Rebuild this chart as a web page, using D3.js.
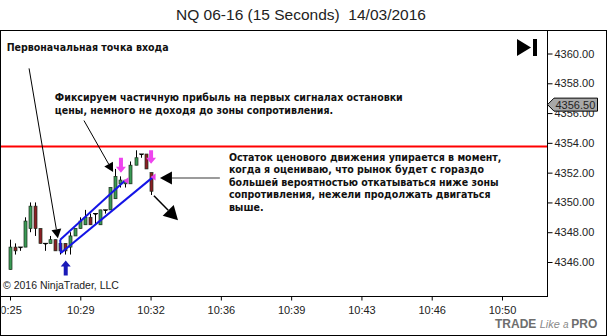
<html>
  <head>
    <title>NQ 06-16 (15 Seconds)</title>
    <script src="https://d3js.org/d3.v7.min.js"></script>
    <style>
      body { margin: 0; background: #fff; }
      text.axis { font-family: "Liberation Sans", Arial, sans-serif; font-size: 11px; fill: #222; }
      text.note { font-family: "DejaVu Sans Condensed", "DejaVu Sans", sans-serif; font-weight: bold; fill: #111; }
    </style>
  </head>
  <body>
    <svg id="chart" width="607" height="336"></svg>
    <script>
      // 15 second bars
      const barTimes = ["10:25:30","10:25:45","10:26:00","10:26:15","10:26:30","10:26:45","10:27:00","10:27:15",
        "10:27:30","10:27:45","10:28:00","10:28:15","10:28:30","10:28:45","10:29:00","10:29:15","10:29:30",
        "10:29:45","10:30:00","10:30:15","10:30:30","10:30:45","10:31:00","10:31:15","10:31:30","10:31:45",
        "10:32:00","10:32:15","10:32:30"];
      const opens  = [4345.5,4347.0,4347.0,4347.0,4348.25,4349.75,4348.25,4347.25,4347.25,4347.5,4347.25,4347.25,4347.0,4347.75,4348.25,4348.5,4349.0,4349.25,4348.5,4349.5,4349.5,4350.25,4351.25,4351.25,4351.25,4352.5,4353.25,4353.25,4352.0];
      const highs  = [4347.5,4347.25,4347.0,4349.0,4350.0,4350.0,4348.25,4347.25,4347.75,4347.5,4347.5,4347.25,4348.0,4348.25,4349.0,4349.5,4349.25,4349.25,4349.5,4349.5,4351.0,4352.25,4351.75,4351.5,4352.75,4353.5,4353.25,4353.25,4352.0];
      const lows   = [4345.5,4346.5,4346.75,4347.0,4348.0,4347.75,4347.25,4346.75,4347.25,4346.75,4346.5,4346.5,4346.5,4347.75,4348.25,4348.5,4348.5,4348.5,4348.5,4349.25,4349.5,4350.25,4351.0,4351.0,4351.25,4352.5,4353.0,4352.25,4350.5];
      const closes = [4347.0,4346.75,4347.0,4348.75,4349.75,4348.25,4347.25,4347.25,4347.5,4346.75,4346.75,4346.75,4347.75,4348.25,4348.75,4349.0,4348.5,4349.25,4349.5,4349.5,4351.0,4351.75,4351.5,4351.5,4352.5,4353.0,4353.25,4352.25,4350.75];

      const priceTicks = [4346, 4348, 4350, 4352, 4354, 4356, 4358, 4360];
      const timeTicks = ["10:25:30","10:29:00","10:32:30","10:36:00","10:39:30","10:43:00","10:46:30","10:50:00"];
      const resistance = 4353.75;
      const lastPrice = 4356.5;

      // trade markers and drawn annotations, in [time, price]
      const tradeLines = [
        [["10:28:00", 4347.5], ["10:31:13", 4351.45]],
        [["10:28:02", 4346.6], ["10:32:37", 4351.7]],
        [["10:28:00", 4347.5], ["10:28:02", 4346.6]]
      ];
      const exitMarks = [["10:31:15", 4351.45], ["10:32:36", 4351.7]];
      const exitArrows = [["10:31:00", 4353.0, 4352.0], ["10:32:30", 4353.5, 4352.6]];
      const entryArrow = ["10:28:15", 4346.1, 4345.1];
      const pointers = [
        { from: ["10:26:27", 4359.0], to: ["10:27:53", 4347.6], color: "#000", w: 1, head: 9 },
        { from: ["10:29:11", 4355.5], to: ["10:30:38", 4352.05], color: "#000", w: 1, head: 9 },
        { from: ["10:35:57", 4351.64], to: ["10:32:58", 4351.64], color: "#7a7a7a", w: 1.5, head: 12 },
        { from: ["10:32:40", 4350.45], to: ["10:33:52", 4348.8], color: "#000", w: 1.5, head: 14 }
      ];
      const notes = [
        { at: ["10:25:20", 4360.2], lines: ["Первоначальная точка входа"] },
        { at: ["10:27:44", 4356.8], lines: ["Фиксируем частичную прибыль на первых сигналах остановки",
                                              "цены, немного не доходя до зоны сопротивления."] },
        { at: ["10:36:24", 4352.8], lines: ["Остаток ценового движения упирается в момент,",
                                            "когда я оцениваю, что рынок будет с гораздо",
                                            "большей вероятностью откатываться ниже зоны",
                                            "сопротивления, нежели продолжать двигаться",
                                            "выше."] }
      ];

      const parseT = d3.timeParse("%H:%M:%S");
      const bars = barTimes.map((t, i) => ({
        t: parseT(t), o: opens[i], h: highs[i], l: lows[i], c: closes[i]
      }));

      const svg = d3.select("#chart");
      const panel = { left: 0.5, top: 30.5, right: 547.5, bottom: 296.5 };

      const x = d3.scaleTime()
        .domain([parseT("10:25:30"), parseT("10:50:00")])
        .range([10, 502]);
      const y = d3.scaleLinear().domain([4346, 4360]).range([262, 53.5]);
      const px = (p) => [x(parseT(p[0])), y(p[1])];

      // title
      svg.append("text")
        .attr("x", 301).attr("y", 20)
        .attr("text-anchor", "middle")
        .style("white-space", "pre")
        .style("font-family", "'Liberation Sans', Arial, sans-serif")
        .style("font-size", "15.5px")
        .style("fill", "#222")
        .text("NQ 06-16 (15 Seconds)  14/03/2016");

      // frames
      svg.append("rect")
        .attr("x", 0.5).attr("y", 30.5).attr("width", 606).attr("height", 305)
        .attr("fill", "none").attr("stroke", "#000");
      svg.append("rect")
        .attr("x", panel.left).attr("y", panel.top)
        .attr("width", panel.right - panel.left).attr("height", panel.bottom - panel.top)
        .attr("fill", "none").attr("stroke", "#000");

      svg.append("clipPath").attr("id", "clip")
        .append("rect")
        .attr("x", panel.left + 0.5).attr("y", panel.top + 0.5)
        .attr("width", panel.right - panel.left - 1).attr("height", panel.bottom - panel.top - 1);
      svg.append("clipPath").attr("id", "clipx")
        .append("rect")
        .attr("x", 1.5).attr("y", panel.bottom)
        .attr("width", 600).attr("height", 30);
      const plot = svg.append("g").attr("clip-path", "url(#clip)");

      // axes
      const yAxis = d3.axisRight(y).tickValues(priceTicks).tickSize(5).tickPadding(2)
        .tickFormat(d3.format(".2f"));
      const yG = svg.append("g").attr("transform", `translate(${panel.right},0)`).call(yAxis);
      yG.select(".domain").remove();
      yG.selectAll("text").attr("class", "axis").attr("font-family", null).attr("font-size", null);

      const xAxis = d3.axisBottom(x).tickValues(timeTicks.map(parseT)).tickSize(4).tickPadding(6)
        .tickFormat(d3.timeFormat("%H:%M"));
      const xG = svg.append("g").attr("clip-path", "url(#clipx)")
        .append("g").attr("transform", `translate(0,${panel.bottom})`).call(xAxis);
      xG.select(".domain").remove();
      xG.selectAll("text").attr("class", "axis").attr("font-family", null).attr("font-size", null);
      // first label sits against the left edge, as in the picture
      xG.select(".tick text").attr("dx", -2.5);

      // last price marker
      const ly = y(lastPrice);
      svg.append("path")
        .attr("d", `M${panel.right},${ly - 1} L554,${ly - 7.5} L597.5,${ly - 7.5} L597.5,${ly + 5.5} L554,${ly + 5.5} Z`)
        .attr("fill", "#a8a8a8").attr("stroke", "#000");
      svg.append("text").attr("class", "axis")
        .attr("x", 555.5).attr("y", ly + 3)
        .text(d3.format(".2f")(lastPrice));

      // resistance line
      plot.append("line")
        .attr("x1", panel.left).attr("x2", panel.right)
        .attr("y1", y(resistance)).attr("y2", y(resistance))
        .attr("stroke", "#ff0000").attr("stroke-width", 2);

      // candles
      const candles = plot.append("g").selectAll("g").data(bars).join("g");
      candles.append("line")
        .attr("x1", (d) => Math.round(x(d.t)) + 0.5).attr("x2", (d) => Math.round(x(d.t)) + 0.5)
        .attr("y1", (d) => y(d.h)).attr("y2", (d) => y(d.l))
        .attr("stroke", "#000").attr("stroke-width", 1);
      candles.append("rect")
        .attr("x", (d) => Math.round(x(d.t)) - 1)
        .attr("width", 3)
        .attr("y", (d) => y(Math.max(d.o, d.c)))
        .attr("height", (d) => Math.max(1, Math.abs(y(d.o) - y(d.c))))
        .attr("fill", (d) => (d.c > d.o ? "#3a9a55" : d.c < d.o ? "#8b1e24" : "#000"))
        .attr("stroke", (d) => (d.c === d.o ? "none" : "#1b2b1b"))
        .attr("stroke-width", 0.7);
      // doji: horizontal bar
      candles.filter((d) => d.c === d.o).append("line")
        .attr("x1", (d) => Math.round(x(d.t)) - 2).attr("x2", (d) => Math.round(x(d.t)) + 3)
        .attr("y1", (d) => y(d.o)).attr("y2", (d) => y(d.o))
        .attr("stroke", "#000");

      // trade lines
      plot.selectAll("line.trade").data(tradeLines).join("line")
        .attr("class", "trade")
        .attr("x1", (d) => px(d[0])[0]).attr("y1", (d) => px(d[0])[1])
        .attr("x2", (d) => px(d[1])[0]).attr("y2", (d) => px(d[1])[1])
        .attr("stroke", "#1414e6").attr("stroke-width", 2);

      // exit markers (small left triangles)
      plot.selectAll("path.exit").data(exitMarks).join("path")
        .attr("class", "exit")
        .attr("d", (d) => {
          const [cx, cy] = px(d);
          return `M${cx - 2},${cy} L${cx + 3},${cy - 3.5} L${cx + 3},${cy + 3.5} Z`;
        })
        .attr("fill", "#e83ee8");

      // block arrow helper (vertical)
      function blockArrow(cx, yTail, yTip) {
        const dir = yTip > yTail ? 1 : -1;
        const headLen = 6 * dir;
        return `M${cx - 2},${yTail} L${cx + 2},${yTail} L${cx + 2},${yTip - headLen}
                L${cx + 5},${yTip - headLen} L${cx},${yTip} L${cx - 5},${yTip - headLen}
                L${cx - 2},${yTip - headLen} Z`;
      }
      plot.selectAll("path.exitArrow").data(exitArrows).join("path")
        .attr("class", "exitArrow")
        .attr("d", (d) => blockArrow(x(parseT(d[0])) + 0.5, y(d[1]), y(d[2])))
        .attr("fill", "#ee44ee");
      plot.append("path")
        .attr("d", blockArrow(x(parseT(entryArrow[0])) + 0.5, y(entryArrow[2]), y(entryArrow[1])))
        .attr("fill", "#1a1ab8");

      // pointer arrows
      pointers.forEach((p) => {
        const [x1, y1] = px(p.from);
        const [x2, y2] = px(p.to);
        const a = Math.atan2(y2 - y1, x2 - x1);
        const hl = p.head, hw = p.head * 0.55;
        const bx = x2 - hl * Math.cos(a), by = y2 - hl * Math.sin(a);
        plot.append("line")
          .attr("x1", x1).attr("y1", y1).attr("x2", bx).attr("y2", by)
          .attr("stroke", p.color).attr("stroke-width", p.w);
        plot.append("path")
          .attr("d", `M${x2},${y2} L${bx + hw * Math.sin(a)},${by - hw * Math.cos(a)} L${bx - hw * Math.sin(a)},${by + hw * Math.cos(a)} Z`)
          .attr("fill", "#000");
      });

      // annotation text, sized so the long line matches the picture width
      const probe = svg.append("text").attr("class", "note").style("font-size", "11px")
        .text(notes[2].lines[0]);
      const noteSize = 11 * 273 / probe.node().getComputedTextLength();
      probe.remove();
      notes.forEach((n) => {
        const [tx, ty] = px(n.at);
        const t = plot.append("text").attr("class", "note")
          .style("font-size", noteSize + "px")
          .attr("x", tx).attr("y", ty);
        n.lines.forEach((line, i) => {
          t.append("tspan").attr("x", tx).attr("dy", i === 0 ? 0 : 12.5).text(line);
        });
      });

      // play / end icon
      svg.append("path").attr("d", "M517,39 L531,47.5 L517,56 Z").attr("fill", "#000");
      svg.append("rect").attr("x", 533).attr("y", 39).attr("width", 4).attr("height", 17).attr("fill", "#000");

      // copyright
      svg.append("text")
        .attr("x", 3).attr("y", 289)
        .style("font-family", "'Liberation Sans', Arial, sans-serif")
        .style("font-size", "10.5px").style("fill", "#222")
        .text("© 2016 NinjaTrader, LLC");

      // logo
      const logo = svg.append("text")
        .attr("x", 495).attr("y", 328)
        .style("font-family", "'Liberation Sans', Arial, sans-serif")
        .style("font-size", "12px").style("fill", "#6e6e6e");
      logo.append("tspan").style("font-weight", "bold").text("TRADE ");
      logo.append("tspan").style("font-style", "italic").style("fill", "#8a8a8a").style("font-size", "11px").text("Like ");
      logo.append("tspan").style("font-style", "italic").style("fill", "#8a8a8a").style("font-size", "10px").text("a ");
      logo.append("tspan").style("font-weight", "bold").text("PRO");
    </script>
  </body>
</html>
